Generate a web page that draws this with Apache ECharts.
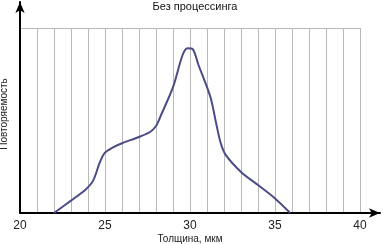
<!DOCTYPE html>
<html><head><meta charset="utf-8">
<script src="https://cdn.jsdelivr.net/npm/echarts@6/dist/echarts.min.js"></script>
<style>html,body{margin:0;padding:0;background:#fff}#c{width:383px;height:244px}</style>
</head><body><div id="c"></div>
<script>
const titleText = 'Без процессинга';
const xName = 'Толщина, мкм';
const yName = 'Повторяемость';
const thickness = [22, 23, 23.85, 24.3, 24.7, 25, 25.5, 26, 27, 27.65, 28, 28.3, 29, 29.55, 29.85, 30.15, 30.5, 31.2, 31.55, 31.8, 32.1, 33, 34, 35, 35.9];
const frequency = [0, 6.7, 12.6, 17.5, 27.5, 32.6, 35.6, 37.7, 41.1, 43.8, 47, 53, 68, 85, 89, 88.6, 80, 62.7, 48, 38, 31.4, 22.2, 15.1, 7.9, 0];
const xTicks = [20, 25, 30, 35, 40];

const points = thickness.map((t, i) => [t, frequency[i]]);
const chart = echarts.init(document.getElementById('c'), null, {renderer: 'canvas'});
const font = 'Liberation Sans, Arial, sans-serif';
chart.setOption({
  animation: false,
  title: {text: titleText, left: 195, textAlign: 'center', top: 1, padding: 0,
    textStyle: {fontSize: 11, fontWeight: 'normal', color: '#111', fontFamily: font}},
  grid: [
    {left: 20, right: 23, top: 28, bottom: 31, outerBoundsMode: 'none', containLabel: false},
    {left: 20, right: 3, top: 2, bottom: 31, outerBoundsMode: 'none', containLabel: false}
  ],
  xAxis: [
    {type: 'value', gridIndex: 0, min: 20, max: 40, interval: 1,
     axisLine: {show: false}, axisTick: {show: false},
     splitLine: {show: true, lineStyle: {color: '#b8b8b8', width: 1}},
     axisLabel: {margin: 7, fontSize: 12, color: '#222', fontFamily: font,
       formatter: v => xTicks.includes(v) ? String(v) : ''},
     name: xName, nameLocation: 'middle', nameGap: 21, nameMoveOverlap: false,
     nameTextStyle: {fontSize: 10, color: '#222', fontFamily: font}},
    {type: 'value', gridIndex: 1, min: 0, max: 1,
     axisLine: {show: true, symbol: ['none', 'arrow'], symbolSize: [7, 11], lineStyle: {color: '#000', width: 2}},
     axisTick: {show: false}, axisLabel: {show: false}, splitLine: {show: false}}
  ],
  yAxis: [
    {type: 'value', gridIndex: 0, min: 0, max: 100, interval: 100,
     axisLine: {show: false}, axisTick: {show: false}, axisLabel: {show: false},
     splitLine: {show: true, lineStyle: {color: '#b8b8b8', width: 1}}},
    {type: 'value', gridIndex: 1, min: 0, max: 1,
     axisLine: {show: true, symbol: ['none', 'arrow'], symbolSize: [7, 11], lineStyle: {color: '#000', width: 2}},
     axisTick: {show: false}, axisLabel: {show: false}, splitLine: {show: false},
     name: yName, nameLocation: 'middle', nameGap: 11, nameRotate: 90, nameMoveOverlap: false,
     nameTextStyle: {fontSize: 10, color: '#222', fontFamily: font, padding: [0, 0, 0, -13]}}
  ],
  series: [{
    type: 'line', xAxisIndex: 0, yAxisIndex: 0, data: points,
    smooth: 0.3, showSymbol: false,
    lineStyle: {color: '#4b4b85', width: 2}
  }]
});
</script></body></html>
